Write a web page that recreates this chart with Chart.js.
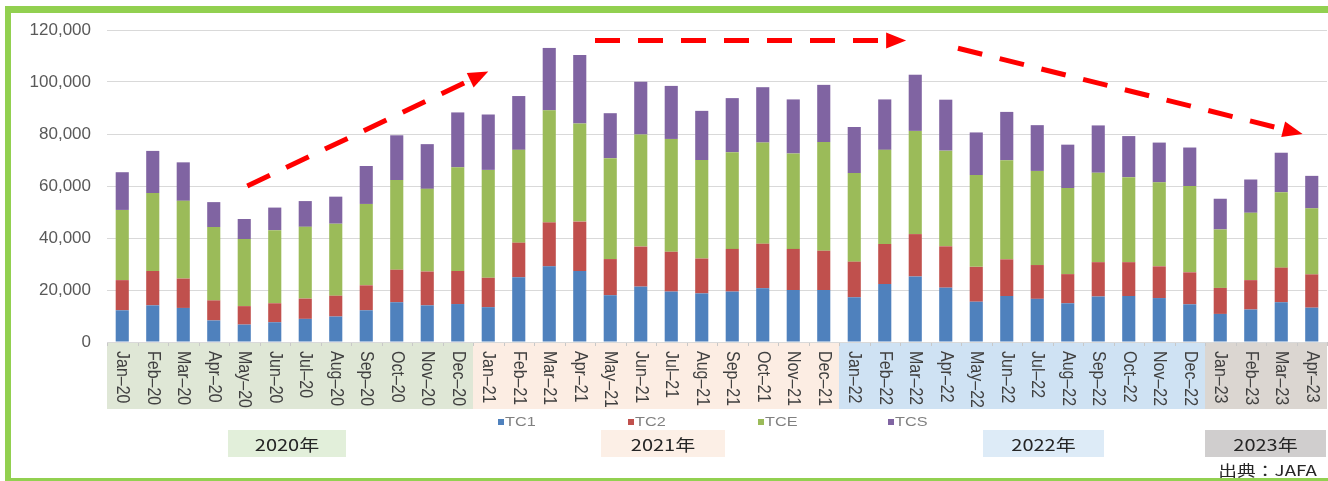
<!DOCTYPE html>
<html>
<head>
<meta charset="utf-8">
<script src="https://cdn.jsdelivr.net/npm/chart.js@4/dist/chart.umd.min.js"></script>
<style>
    html, body { margin: 0; padding: 0; background: #fff; }
    #wrap { position: relative; width: 1328px; height: 481px; overflow: hidden; }
    #frame {
        position: absolute; left: 5px; top: 6px; right: -20px; bottom: 0;
        border: 6px solid #92d050; border-top-width: 7px; border-bottom-width: 3px;
        pointer-events: none;
    }
</style>
</head>
<body>
<div id="wrap">
    <canvas id="chart"></canvas>
    <div id="frame"></div>
</div>
<script>
// Monthly values
var months = [
    'Jan-20','Feb-20','Mar-20','Apr-20','May-20','Jun-20','Jul-20','Aug-20','Sep-20','Oct-20','Nov-20','Dec-20',
    'Jan-21','Feb-21','Mar-21','Apr-21','May-21','Jun-21','Jul-21','Aug-21','Sep-21','Oct-21','Nov-21','Dec-21',
    'Jan-22','Feb-22','Mar-22','Apr-22','May-22','Jun-22','Jul-22','Aug-22','Sep-22','Oct-22','Nov-22','Dec-22',
    'Jan-23','Feb-23','Mar-23','Apr-23'
];

var tc1 = [
    12200, 14100, 13100, 8300, 6700, 7600, 8900, 9800, 12200, 15300, 14100, 14600,
    13400, 24900, 29100, 27300, 18000, 21300, 19400, 18700, 19400, 20700, 20000, 20000,
    17200, 22300, 25200, 20900, 15500, 17700, 16600, 14900, 17500, 17700, 16900, 14500,
    10800, 12500, 15300, 13200
];
var tc2 = [
    11600, 13200, 11300, 7700, 7100, 7300, 7800, 8000, 9600, 12500, 13000, 12700,
    11300, 13300, 16900, 19000, 13900, 15400, 15300, 13400, 16400, 17100, 15800, 15100,
    13700, 15400, 16300, 15900, 13400, 14100, 13000, 11200, 13200, 13000, 12200, 12300,
    10000, 11300, 13300, 12800
];
var tce = [
    27000, 30000, 29900, 28200, 25800, 28100, 27600, 27700, 31300, 34500, 31800, 39900,
    41500, 35700, 43100, 37700, 38800, 43100, 43400, 37900, 37200, 38900, 36700, 41800,
    34100, 36200, 39700, 36800, 35300, 38100, 36200, 33100, 34400, 32700, 32300, 33200,
    22500, 25900, 29000, 25400
];
var tcs = [
    14500, 16200, 14800, 9600, 7700, 8700, 9900, 10400, 14600, 17200, 17200, 21100,
    21300, 20700, 24000, 26400, 17300, 20300, 20400, 18900, 20800, 21300, 20800, 22000,
    17700, 19400, 21600, 19600, 16400, 18600, 17600, 16700, 18200, 15800, 15300, 14800,
    11800, 12800, 15200, 12500
];

var yTicks = [0, 20000, 40000, 60000, 80000, 100000, 120000];

// Year groups: first month index, month count, label
var yearGroups = [
    { start: 0,  count: 12, label: '2020年' },
    { start: 12, count: 12, label: '2021年' },
    { start: 24, count: 12, label: '2022年' },
    { start: 36, count: 4,  label: '2023年' }
];

// Trend arrows in data terms: [month index, value]
var trendArrows = [
    { from: [4.1, 60000],   to: [12.0, 104000] },
    { from: [15.5, 116000], to: [25.7, 116000] },
    { from: [27.4, 113000], to: [38.7, 80000] }
];

var sourceText = '出典：JAFA';

(function() {
    'use strict';

    var colors = {
        tc1: '#4f81bd',
        tc2: '#c0504d',
        tce: '#9bbb59',
        tcs: '#8064a2',
        grid: '#d9d9d9',
        text: '#595959'
    };

    var bandColors = ['#dfe7d6', '#fcede3', '#cfe2f3', '#dbd6d1'];
    var boxColors = ['#e2efda', '#fcefe6', '#ddebf7', '#d0cece'];
    var boxPos = [
        { x: 228, w: 118 },
        { x: 601, w: 124 },
        { x: 983, w: 121 },
        { x: 1205, w: 121 }
    ];

    // the source picture is a bit wider than tall, so text is stretched sideways
    var STRETCH = 1.25;

    function wideText(ctx, text, x, y, align) {
        ctx.save();
        ctx.translate(x, y);
        ctx.scale(STRETCH, 1);
        ctx.textAlign = align || 'left';
        ctx.fillText(text, 0, 0);
        ctx.restore();
    }

    function drawArrow(ctx, x1, y1, x2, y2) {
        var ang = Math.atan2(y2 - y1, x2 - x1);
        var headLen = 20;
        var bx = x2 - Math.cos(ang) * headLen;
        var by = y2 - Math.sin(ang) * headLen;

        ctx.save();
        ctx.strokeStyle = '#ff0000';
        ctx.fillStyle = '#ff0000';
        ctx.lineWidth = 5;
        ctx.setLineDash([25, 18]);
        ctx.beginPath();
        ctx.moveTo(x1, y1);
        ctx.lineTo(bx, by);
        ctx.stroke();
        ctx.setLineDash([]);
        ctx.beginPath();
        ctx.moveTo(x2, y2);
        ctx.lineTo(bx + Math.sin(ang) * 8, by - Math.cos(ang) * 8);
        ctx.lineTo(bx - Math.sin(ang) * 8, by + Math.cos(ang) * 8);
        ctx.closePath();
        ctx.fill();
        ctx.restore();
    }

    var decorations = {
        id: 'decorations',

        beforeDraw: function(chart) {
            var ctx = chart.ctx;
            var x = chart.scales.x;
            var area = chart.chartArea;
            var step = x.width / months.length;

            ctx.save();
            ctx.fillStyle = '#ffffff';
            ctx.fillRect(0, 0, chart.width, chart.height);

            // Year bands behind month labels
            yearGroups.forEach(function(g, i) {
                var left = x.getPixelForValue(g.start) - step / 2;
                ctx.fillStyle = bandColors[i];
                ctx.fillRect(left, area.bottom, step * g.count, 67);
            });

            // small ticks between months
            ctx.strokeStyle = '#c8c8c8';
            ctx.lineWidth = 1;
            for (var i = 0; i <= months.length; i++) {
                var px = Math.round(x.getPixelForValue(i) - step / 2) + 0.5;
                ctx.beginPath();
                ctx.moveTo(px, area.bottom);
                ctx.lineTo(px, area.bottom + 4);
                ctx.stroke();
            }

            // Year boxes
            ctx.font = '16px "Noto Sans CJK JP", sans-serif';
            ctx.textBaseline = 'middle';
            yearGroups.forEach(function(g, i) {
                var b = boxPos[i];
                ctx.fillStyle = boxColors[i];
                ctx.fillRect(b.x, 430, b.w, 27);
                ctx.fillStyle = '#262626';
                wideText(ctx, g.label, b.x + b.w / 2, 445, 'center');
            });

            // Legend
            ctx.font = '13px "Liberation Sans", Arial, sans-serif';
            chart.data.datasets.forEach(function(ds, i) {
                var lx = 498 + i * 130;
                ctx.fillStyle = ds.backgroundColor;
                ctx.fillRect(lx, 419, 6, 6);
                ctx.fillStyle = '#808080';
                wideText(ctx, ds.label, lx + 7, 422, 'left');
            });

            // Source
            ctx.font = '15px "Noto Sans CJK JP", sans-serif';
            ctx.fillStyle = '#262626';
            wideText(ctx, sourceText, 1317, 470, 'right');
            ctx.restore();
        },

        afterDatasetsDraw: function(chart) {
            var x = chart.scales.x;
            var y = chart.scales.y;
            var ctx = chart.ctx;

            trendArrows.forEach(function(a) {
                drawArrow(ctx,
                    x.getPixelForValue(a.from[0]), y.getPixelForValue(a.from[1]),
                    x.getPixelForValue(a.to[0]), y.getPixelForValue(a.to[1]));
            });
        },

        afterDraw: function(chart) {
            var x = chart.scales.x;
            var area = chart.chartArea;
            var ctx = chart.ctx;

            // Month labels, rotated clockwise
            ctx.save();
            ctx.font = '16px "Liberation Sans", Arial, sans-serif';
            ctx.fillStyle = '#404040';
            ctx.textAlign = 'left';
            ctx.textBaseline = 'middle';
            months.forEach(function(m, i) {
                ctx.save();
                ctx.translate(x.getPixelForValue(i), area.bottom + 9);
                ctx.rotate(Math.PI / 2);
                ctx.scale(1, 1.15);
                ctx.fillText(m.replace('-', '\u2013'), 0, 0);
                ctx.restore();
            });
            ctx.restore();
        }
    };

    var canvas = document.getElementById('chart');

    new Chart(canvas.getContext('2d'), {
        type: 'bar',
        data: {
            labels: months,
            datasets: [
                { label: 'TC1', data: tc1, backgroundColor: colors.tc1 },
                { label: 'TC2', data: tc2, backgroundColor: colors.tc2 },
                { label: 'TCE', data: tce, backgroundColor: colors.tce },
                { label: 'TCS', data: tcs, backgroundColor: colors.tcs }
            ]
        },
        options: {
            responsive: true,
            maintainAspectRatio: false,
            animation: false,
            layout: {
                padding: { top: 30, right: 1, bottom: 139, left: 0 }
            },
            datasets: {
                bar: {
                    barPercentage: 0.43,
                    categoryPercentage: 1.0,
                    borderWidth: 0
                }
            },
            plugins: {
                legend: { display: false },
                tooltip: { enabled: false }
            },
            scales: {
                x: {
                    stacked: true,
                    display: false
                },
                y: {
                    stacked: true,
                    min: 0,
                    max: 120000,
                    afterBuildTicks: function(scale) {
                        scale.ticks = yTicks.map(function(v) { return { value: v }; });
                    },
                    afterFit: function(scale) {
                        scale.width = 107;
                    },
                    border: { display: false },
                    grid: {
                        color: colors.grid,
                        lineWidth: 1,
                        drawTicks: false
                    },
                    ticks: {
                        padding: 16,
                        color: colors.text,
                        font: { family: '"Liberation Sans", Arial, sans-serif', size: 17 },
                        callback: function(v) {
                            return v.toLocaleString('en-US');
                        }
                    }
                }
            }
        },
        plugins: [decorations]
    });
})();
</script>
</body>
</html>
